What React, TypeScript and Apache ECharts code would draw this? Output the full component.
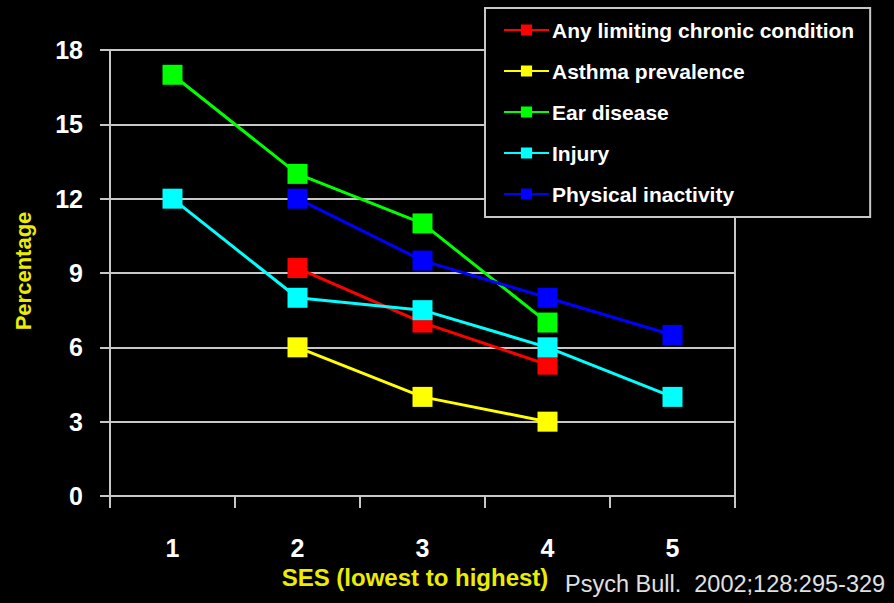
import React, { useEffect, useRef } from "react";
import * as echarts from "echarts";

// SES quintiles (lowest to highest)
const sesLevels = ["1", "2", "3", "4", "5"];

// Percentage of children by SES quintile; null where no value is reported
const chronicCondition = [null, 9.2, 7.0, 5.3, null];
const asthmaPrevalence = [null, 6.0, 4.0, 3.0, null];
const earDisease = [17, 13, 11, 7, null];
const injury = [12, 8, 7.5, 6, 4];
const physicalInactivity = [null, 12, 9.5, 8, 6.5];

const seriesNames = [
  "Any limiting chronic condition",
  "Asthma prevalence",
  "Ear disease",
  "Injury",
  "Physical inactivity",
];
const seriesColors = ["#ff0000", "#ffff00", "#00ff00", "#00ffff", "#0000ff"];
const seriesData = [chronicCondition, asthmaPrevalence, earDisease, injury, physicalInactivity];

const yTicks = { min: 0, max: 18, interval: 3 };

const FONT = "'Liberation Sans', Arial, sans-serif";
const AXIS_GRAY = "#c8c8c8";
const TITLE_YELLOW = "#ecec00";

export default function App() {
  const ref = useRef<HTMLDivElement>(null);

  useEffect(() => {
    if (!ref.current) return;
    const chart = echarts.init(ref.current, undefined, { renderer: "svg" });
    chart.setOption({
      animation: false,
      backgroundColor: "#000000",
      grid: { left: 110, right: 159, top: 50, bottom: 107 },
      legend: {
        orient: "vertical",
        left: 485,
        top: 8,
        padding: [10, 16, 11, 18],
        itemWidth: 45,
        itemHeight: 14,
        itemGap: 17,
        backgroundColor: "#000000",
        borderColor: AXIS_GRAY,
        borderWidth: 2,
        textStyle: {
          color: "#ffffff",
          fontFamily: FONT,
          fontWeight: "bold",
          fontSize: 21,
          lineHeight: 24,
          padding: [0, 0, 0, -2],
        },
        data: seriesNames,
        z: 10,
      },
      xAxis: {
        type: "category",
        data: sesLevels,
        boundaryGap: true,
        axisLine: { lineStyle: { color: AXIS_GRAY, width: 2 } },
        axisTick: { show: true, alignWithLabel: false, length: 12, lineStyle: { color: AXIS_GRAY, width: 2 } },
        axisLabel: { color: "#ffffff", fontFamily: FONT, fontWeight: "bold", fontSize: 25, margin: 39 },
        splitLine: { show: false },
      },
      yAxis: [
        {
          type: "value",
          min: yTicks.min,
          max: yTicks.max,
          interval: yTicks.interval,
          axisLine: { show: true, lineStyle: { color: AXIS_GRAY, width: 2 } },
          axisTick: { show: true, length: 10, lineStyle: { color: AXIS_GRAY, width: 2 } },
          axisLabel: { color: "#ffffff", fontFamily: FONT, fontWeight: "bold", fontSize: 25, margin: 27 },
          splitLine: { show: true, lineStyle: { color: AXIS_GRAY, width: 2 } },
        },
        {
          type: "value",
          position: "right",
          min: yTicks.min,
          max: yTicks.max,
          interval: yTicks.interval,
          axisLine: { show: true, lineStyle: { color: AXIS_GRAY, width: 2 } },
          axisTick: { show: false },
          axisLabel: { show: false },
          splitLine: { show: false },
        },
      ],
      series: seriesNames.map((name, i) => ({
        name,
        type: "line",
        data: seriesData[i],
        yAxisIndex: 0,
        symbol: "rect",
        symbolSize: 20,
        showSymbol: true,
        connectNulls: false,
        color: seriesColors[i],
        lineStyle: { color: seriesColors[i], width: 3 },
        itemStyle: { color: seriesColors[i] },
        z: 3 + i * 0.01,
      })),
      graphic: [
        {
          type: "text",
          x: 23,
          y: 271,
          rotation: Math.PI / 2,
          style: {
            text: "Percentage",
            fill: TITLE_YELLOW,
            font: `bold 22px ${FONT}`,
            textAlign: "center",
            textVerticalAlign: "middle",
          },
        },
        {
          type: "text",
          x: 415,
          y: 577,
          style: {
            text: "SES (lowest to highest)",
            fill: TITLE_YELLOW,
            font: `bold 24px ${FONT}`,
            textAlign: "center",
            textVerticalAlign: "middle",
          },
        },
        {
          type: "text",
          x: 565,
          y: 584,
          style: {
            text: "Psych Bull.  2002;128:295-329",
            fill: "#e0e0e0",
            font: `23.5px ${FONT}`,
            textAlign: "left",
            textVerticalAlign: "middle",
          },
        },
      ],
    });
    return () => chart.dispose();
  }, []);

  return (
    <div
      ref={ref}
      style={{ position: "absolute", left: 0, top: 0, width: 894, height: 603 }}
    />
  );
}
